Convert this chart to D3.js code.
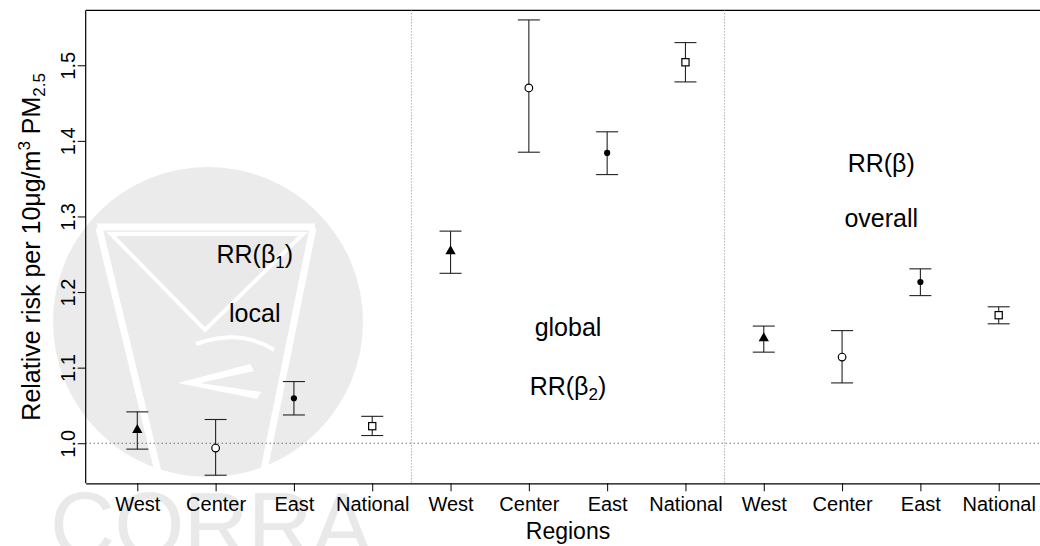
<!DOCTYPE html>
<html>
<head>
<meta charset="utf-8">
<script src="https://cdn.jsdelivr.net/npm/d3@7"></script>
<style>
  html, body { margin: 0; padding: 0; background: #fff; }
  svg { display: block; font-family: "Liberation Sans", Arial, Helvetica, sans-serif; }
</style>
</head>
<body>
<svg id="chart" width="1040" height="546"></svg>
<script>
// Data
const regions = ["West", "Center", "East", "National"];
const yTicks = [1.0, 1.1, 1.2, 1.3, 1.4, 1.5];

// RR(beta1) local
const localEst = [1.0176, 0.9936, 1.0595, 1.0226];
const localLow = [0.9922, 0.9577, 1.0374, 1.0102];
const localUp  = [1.0415, 1.0314, 1.0816, 1.0356];

// RR(beta2) global
const globalEst = [1.2539, 1.4700, 1.3840, 1.5040];
const globalLow = [1.2248, 1.3850, 1.3554, 1.4780];
const globalUp  = [1.2806, 1.5600, 1.4120, 1.5300];

// RR(beta) overall
const overallEst = [1.1390, 1.1140, 1.2133, 1.1694];
const overallLow = [1.1205, 1.0798, 1.1953, 1.1580];
const overallUp  = [1.1550, 1.1490, 1.2307, 1.1805];

const shapes = ["triangle", "circle", "dot", "square"];

// panel annotation labels (x in category index units, y in RR units)
const notes = [
  { x: 2.5,  y: 1.250, main: "RR(β", sub: "1", tail: ")" },
  { x: 2.5,  y: 1.172, main: "local" },
  { x: 6.5,  y: 1.153, main: "global" },
  { x: 6.5,  y: 1.075, main: "RR(β", sub: "2", tail: ")" },
  { x: 10.5, y: 1.370, main: "RR(β)" },
  { x: 10.5, y: 1.298, main: "overall" }
];

const svg = d3.select("#chart");
const W = 1040, H = 546;
const margin = { left: 85.7, top: 10.4, bottom: 62.7 };
const plotRight = 1050.3; // frame continues past the picture edge

const x = d3.scaleLinear().domain([0.341, 12.659]).range([margin.left, plotRight]);
const y = d3.scaleLinear().domain([0.947, 1.5726]).range([H - margin.bottom, margin.top]);

// flatten the three panels into 12 points
const points = [];
[[localEst, localLow, localUp], [globalEst, globalLow, globalUp], [overallEst, overallLow, overallUp]]
  .forEach((p, k) => {
    p[0].forEach((v, i) => {
      points.push({ pos: k * 4 + i + 1, est: v, low: p[1][i], up: p[2][i], shape: shapes[i] });
    });
  });

// --- watermark logo (faint) ---
const wm = svg.append("g").attr("class", "watermark");
wm.append("circle").attr("cx", 208).attr("cy", 322).attr("r", 155).attr("fill", "#ebebeb");
wm.append("path")
  .attr("d", "M97,227 L315,227 M99,228 L160,480 M313,228 L262,480")
  .attr("fill", "none").attr("stroke", "#fff").attr("stroke-width", 7);
wm.append("path")
  .attr("d", "M111,234 L303,234 L205,330 Z")
  .attr("fill", "#e9e9e9").attr("stroke", "#fff").attr("stroke-width", 4);
wm.append("path")
  .attr("d", "M250,364 L178,383 L257,399 L261,392 L200,383 L254,371 Z")
  .attr("fill", "#fff");
wm.append("path")
  .attr("d", "M196,344 Q240,328 274,350")
  .attr("fill", "none").attr("stroke", "#fff").attr("stroke-width", 4);
wm.append("text")
  .attr("x", 50).attr("y", 556)
  .attr("font-size", 90)
  .attr("textLength", 322).attr("lengthAdjust", "spacing")
  .attr("fill", "#e9e9e9")
  .text("CORRA");

// --- frame ---
const frame = svg.append("g").attr("stroke", "#000").attr("stroke-width", 1.2).attr("fill", "none");
frame.append("line").attr("x1", margin.left).attr("x2", plotRight)
  .attr("y1", margin.top).attr("y2", margin.top);
frame.append("line").attr("x1", plotRight).attr("x2", plotRight)
  .attr("y1", margin.top).attr("y2", H - margin.bottom);

// reference lines
svg.append("line")
  .attr("x1", margin.left).attr("x2", plotRight)
  .attr("y1", y(1)).attr("y2", y(1))
  .attr("stroke", "#333").attr("stroke-width", 1).attr("stroke-dasharray", "1,3");
[4.5, 8.5].forEach(v => {
  svg.append("line")
    .attr("x1", x(v)).attr("x2", x(v))
    .attr("y1", margin.top).attr("y2", H - margin.bottom)
    .attr("stroke", "#888").attr("stroke-width", 1).attr("stroke-dasharray", "1,2");
});

// --- axes ---
const xAxis = d3.axisBottom(x)
  .tickValues(d3.range(1, 13))
  .tickFormat(d => regions[(d - 1) % 4])
  .tickSize(8).tickSizeOuter(0).tickPadding(6);
const gx = svg.append("g")
  .attr("transform", `translate(0,${H - margin.bottom})`)
  .call(xAxis);
gx.selectAll("text").attr("font-size", 20).attr("fill", "#000")
  .attr("font-family", "Liberation Sans, Arial, sans-serif");
gx.select(".domain").attr("stroke-width", 1.2);

const yAxis = d3.axisLeft(y)
  .tickValues(yTicks)
  .tickFormat(d3.format(".1f"))
  .tickSize(8).tickSizeOuter(0);
const gy = svg.append("g")
  .attr("transform", `translate(${margin.left},0)`)
  .call(yAxis);
gy.select(".domain").attr("d", `M0,${margin.top}V${H - margin.bottom}`).attr("stroke-width", 1.2);
gy.selectAll("text")
  .attr("font-size", 20).attr("fill", "#000")
  .attr("font-family", "Liberation Sans, Arial, sans-serif")
  .attr("text-anchor", "middle")
  .attr("transform", "rotate(-90)")
  .attr("x", 0).attr("y", -11).attr("dy", 0);

// axis titles
svg.append("text")
  .attr("x", x(6.5)).attr("y", 539)
  .attr("text-anchor", "middle").attr("font-size", 23)
  .text("Regions");

const yt = svg.append("text")
  .attr("transform", `translate(40,${(margin.top + H - margin.bottom) / 2}) rotate(-90)`)
  .attr("text-anchor", "middle").attr("font-size", 25);
yt.append("tspan").text("Relative risk per 10μg/m");
yt.append("tspan").attr("font-size", 17).attr("dy", -10).text("3");
yt.append("tspan").attr("dy", 10).text(" PM");
yt.append("tspan").attr("font-size", 17).attr("dy", 5).text("2.5");

// --- error bars ---
const cap = 11;
const bars = svg.append("g").attr("stroke", "#222").attr("stroke-width", 1.1);
points.forEach(d => {
  const cx = x(d.pos);
  bars.append("line").attr("x1", cx).attr("x2", cx).attr("y1", y(d.low)).attr("y2", y(d.up));
  bars.append("line").attr("x1", cx - cap).attr("x2", cx + cap).attr("y1", y(d.up)).attr("y2", y(d.up));
  bars.append("line").attr("x1", cx - cap).attr("x2", cx + cap).attr("y1", y(d.low)).attr("y2", y(d.low));
});

// --- point markers ---
const marks = svg.append("g");
points.forEach(d => {
  const cx = x(d.pos), cy = y(d.est);
  if (d.shape === "triangle") {
    marks.append("path")
      .attr("d", d3.symbol(d3.symbolTriangle, 46)())
      .attr("transform", `translate(${cx},${cy})`)
      .attr("fill", "#000");
  } else if (d.shape === "circle") {
    marks.append("circle").attr("cx", cx).attr("cy", cy).attr("r", 3.8)
      .attr("fill", "#fff").attr("stroke", "#000").attr("stroke-width", 1.2);
  } else if (d.shape === "dot") {
    marks.append("circle").attr("cx", cx).attr("cy", cy).attr("r", 3.1).attr("fill", "#000");
  } else {
    marks.append("rect").attr("x", cx - 3.6).attr("y", cy - 3.6)
      .attr("width", 7.2).attr("height", 7.2)
      .attr("fill", "#fff").attr("stroke", "#000").attr("stroke-width", 1.2);
  }
});

// --- panel annotations ---
notes.forEach(n => {
  const t = svg.append("text")
    .attr("x", x(n.x)).attr("y", y(n.y))
    .attr("dy", "0.35em")
    .attr("text-anchor", "middle").attr("font-size", 25);
  t.append("tspan").text(n.main);
  if (n.sub) {
    t.append("tspan").attr("font-size", 17).attr("dy", 5).text(n.sub);
    t.append("tspan").attr("dy", -5).text(n.tail);
  }
});
</script>
</body>
</html>
